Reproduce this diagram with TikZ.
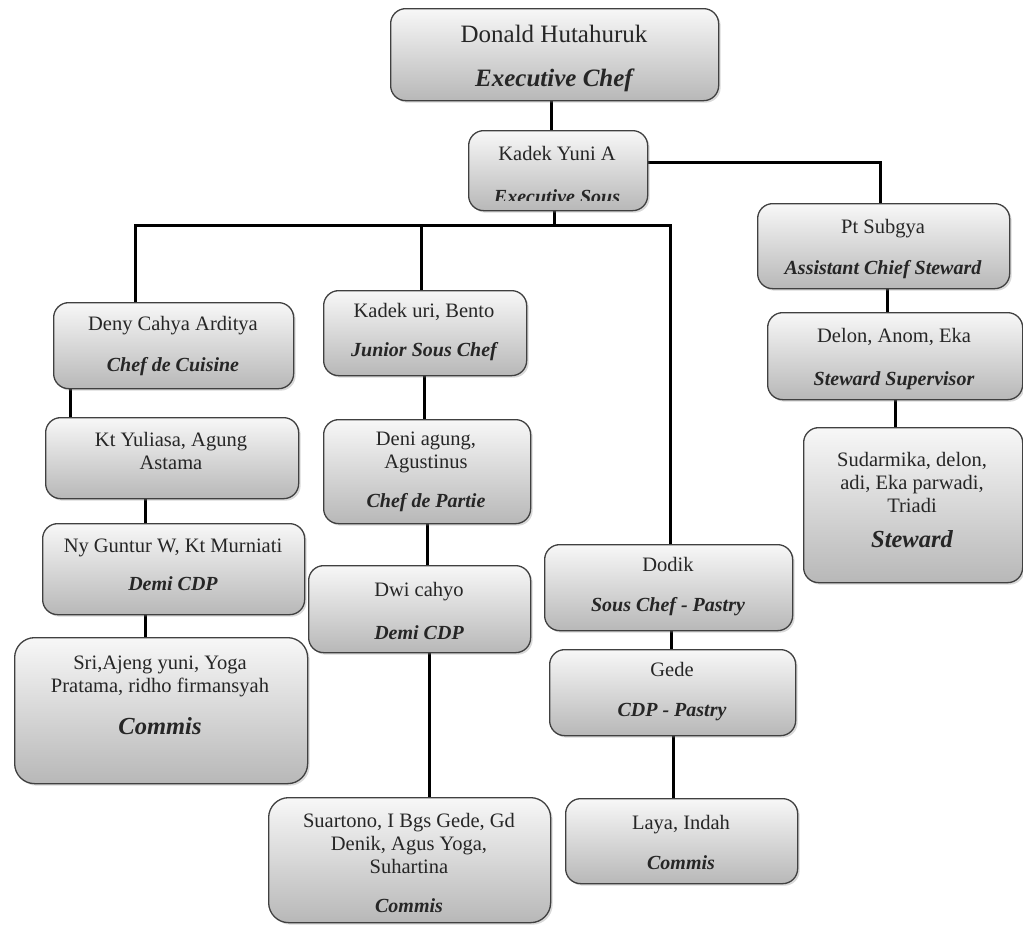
\documentclass[tikz,border=0pt]{standalone}
\usepackage{fontspec}
\setmainfont{Liberation Serif}
\usetikzlibrary{shadows,backgrounds,calc}
\newcommand\nm{\fontsize{20.5}{23}\selectfont}
\newcommand\rtitle[1]{\fontsize{#1}{#1}\selectfont\bfseries\itshape}
\begin{document}
\begin{tikzpicture}[x=1pt,y=-1pt,
  box/.style={draw=black!75, line width=1.3pt, rounded corners=15pt,
    top color=black!3, bottom color=black!28,
    drop shadow={shadow xshift=2pt,shadow yshift=-2pt,opacity=0.3},
    anchor=north west, inner sep=0pt},
  conn/.style={line width=3pt, black},
  txt/.style={align=center, inner sep=0pt, font=\nm, text=black!85}]
\useasboundingbox (0,0) rectangle (1023,924);

% boxes
\node[box, minimum width=328, minimum height=92] (b1) at (390,8) {};
\node[box, minimum width=179, minimum height=80] (b2) at (468,130) {};
\node[box, minimum width=252, minimum height=85] (ps) at (757,203) {};
\node[box, minimum width=255, minimum height=87] (del) at (767,312) {};
\node[box, minimum width=219, minimum height=155] (sud) at (803,427) {};
\node[box, minimum width=240, minimum height=86] (deny) at (53,302) {};
\node[box, minimum width=253, minimum height=81] (kty) at (45,417) {};
\node[box, minimum width=262, minimum height=91] (ny) at (42,523) {};
\node[box, minimum width=293, minimum height=146, rounded corners=20pt] (sri) at (14,637) {};
\node[box, minimum width=203, minimum height=85] (kuri) at (323,290) {};
\node[box, minimum width=207, minimum height=104] (deni) at (323,419) {};
\node[box, minimum width=222, minimum height=87] (dwi) at (308,565) {};
\node[box, minimum width=282, minimum height=125, rounded corners=20pt] (suar) at (268,797) {};
\node[box, minimum width=248, minimum height=86] (dodik) at (544,544) {};
\node[box, minimum width=246, minimum height=86] (gede) at (549,649) {};
\node[box, minimum width=232, minimum height=85] (laya) at (565,798) {};

% texts
\node[txt] (t-b1) at (554,58) {{\fontsize{25}{28}\selectfont Donald Hutahuruk}\\[21pt]{\rtitle{25}Executive Chef}};
\node[txt] (t-b2) at (557,153) {Kadek Yuni A};
\begin{scope}
  \clip (470,131) rectangle (645,200.5);
  \node[txt, anchor=base] (t-b2b) at (557,203) {\rtitle{20}Executive Sous};
\end{scope}
\node[txt] (t-ps) at (883,249) {Pt Subgya\\[18pt]{\rtitle{20}Assistant Chief Steward}};
\node[txt] (t-del) at (894,359) {Delon, Anom, Eka\\[20pt]{\rtitle{20}Steward Supervisor}};
\node[txt] (t-sud) at (912,500) {Sudarmika, delon,\\adi, Eka parwadi,\\Triadi\\[12pt]{\rtitle{24.5}Steward}};
\node[txt] (t-deny) at (173,346) {Deny Cahya Arditya\\[18pt]{\rtitle{20}Chef de Cuisine}};
\node[txt] (t-kty) at (171,451) {Kt Yuliasa, Agung\\Astama};
\node[txt] (t-ny) at (173,565) {Ny Guntur W, Kt Murniati\\[15pt]{\rtitle{20}Demi CDP}};
\node[txt] (t-sri) at (160,695) {Sri,Ajeng yuni, Yoga\\Pratama, ridho firmansyah\\[19pt]{\rtitle{24.5}Commis}};
\node[txt] (t-kuri) at (424,332) {Kadek uri, Bento\\[16pt]{\rtitle{20}Junior Sous Chef}};
\node[txt] (t-deni) at (426,472) {Deni agung,\\Agustinus\\[16pt]{\rtitle{20}Chef de Partie}};
\node[txt] (t-dwi) at (419,611) {Dwi cahyo\\[20pt]{\rtitle{20}Demi CDP}};
\node[txt] (t-suar) at (409,863) {Suartono, I Bgs Gede, Gd\\Denik, Agus Yoga,\\Suhartina\\[16pt]{\rtitle{20}Commis}};
\node[txt] (t-dodik) at (668,587) {Dodik\\[17pt]{\rtitle{20}Sous Chef - Pastry}};
\node[txt] (t-gede) at (672,692) {Gede\\[17pt]{\rtitle{20}CDP - Pastry}};
\node[txt] (t-laya) at (681,842) {Laya, Indah\\[17pt]{\rtitle{20}Commis}};

% connectors
\begin{scope}[on background layer]
  \coordinate (bar) at (554,225);
  \draw[conn] ([xshift=-3pt]b1.south) -- ([xshift=-3pt]b1.south |- b2.north);
  \draw[conn] ([yshift=8pt]b2.east) -| ([xshift=-3pt]ps.north);
  \draw[conn] (b2.south -| bar) -- (bar);
  \draw[conn] ([xshift=-38pt]deny.north) |- (bar) -| ([xshift=2pt]dodik.north);
  \draw[conn] ([xshift=-4pt]kuri.north |- bar) -- ([xshift=-4pt]kuri.north);
  \draw[conn] ([xshift=17pt]deny.south west) -- ([xshift=17pt]deny.south west |- kty.north);
  \draw[conn] ([xshift=100pt]kty.south west) -- ([xshift=100pt]kty.south west |- ny.north);
  \draw[conn] ([xshift=103pt]ny.south west) -- ([xshift=103pt]ny.south west |- sri.north);
  \draw[conn] ([xshift=-1pt]kuri.south) -- ([xshift=-1pt]kuri.south |- deni.north);
  \draw[conn] (deni.south) -- (deni.south |- dwi.north);
  \draw[conn] ([xshift=10pt]dwi.south) -- ([xshift=10pt]dwi.south |- suar.north);
  \draw[conn] ([xshift=3pt]dodik.south) -- ([xshift=3pt]dodik.south |- gede.north);
  \draw[conn] ([xshift=1pt]gede.south) -- ([xshift=1pt]gede.south |- laya.north);
  \draw[conn] ([xshift=4pt]ps.south) -- ([xshift=4pt]ps.south |- del.north);
  \draw[conn] (del.south) -- (del.south |- sud.north);
\end{scope}
\end{tikzpicture}
\end{document}
